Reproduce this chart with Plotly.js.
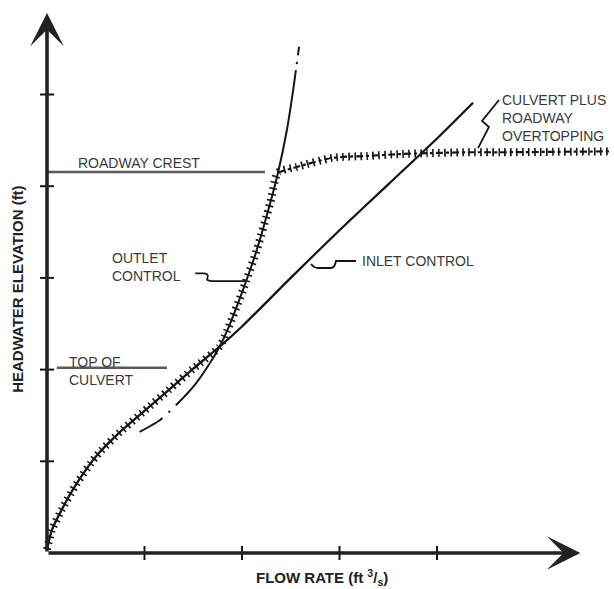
<!DOCTYPE html>
<html><head><meta charset="utf-8">
<script src="https://cdn.plot.ly/plotly-3.0.1.min.js"></script>
<style>html,body{margin:0;padding:0;background:#fff}#chart{width:614px;height:589px}</style>
</head><body><div id="chart"></div>
<script>
// Inlet control curve (flow, headwater) in tick units
const inletQ  = [0, 0.05, 0.15, 0.3, 0.5, 0.75, 1.0, 1.25, 1.5, 1.77, 2.0, 2.5, 3.0, 3.5, 4.0, 4.37];
const inletHW = [0.04, 0.25, 0.47, 0.75, 1.05, 1.32, 1.55, 1.78, 2.01, 2.25, 2.47, 3.0, 3.52, 4.02, 4.52, 4.91];
// Outlet control curve
const outletQ  = [0.95, 1.16, 1.33, 1.52, 1.67, 1.77, 1.85, 2.01, 2.15, 2.29, 2.37, 2.46, 2.525, 2.585];
const outletHW = [1.32, 1.45, 1.62, 1.84, 2.07, 2.25, 2.43, 2.87, 3.30, 3.82, 4.15, 4.61, 5.05, 5.52];
// Culvert plus roadway overtopping
const overQ  = [2.37, 2.56, 2.93, 3.28, 3.62, 3.90, 4.31, 4.65, 5.77];
const overHW = [4.15, 4.21, 4.31, 4.33, 4.35, 4.36, 4.37, 4.37, 4.38];
// Reference elevations
const crestHW = 4.155, crestQ = [0, 2.236];
const culvertHW = 2.02, culvertQ = [0.10, 1.23];
// Tick positions
const xTicks = [1, 2, 3, 4];
const yTicks = [1, 2, 3, 4, 5];
const xMax = 5.47, yMax = 5.89;

// Performance curve: inlet up to the intersection, outlet up to the crest, then overtopping
const perfQ  = inletQ.slice(0, 10).concat(outletQ.slice(6, 11), overQ.slice(1));
const perfHW = inletHW.slice(0, 10).concat(outletHW.slice(6, 11), overHW.slice(1));

const ink = '#161616', gray = '#5a5a5a', txt = '#3a3a3a';
const FONT = 'Liberation Sans, Arial, Helvetica, sans-serif';

const traces = [
  {x: crestQ, y: [crestHW, crestHW], mode: 'lines', line: {color: gray, width: 2.5}},
  {x: culvertQ, y: [culvertHW, culvertHW], mode: 'lines', line: {color: gray, width: 2.5}},
  {x: inletQ, y: inletHW, mode: 'lines', line: {color: ink, width: 2.3, shape: 'spline', smoothing: 0.6}},
  {x: outletQ, y: outletHW, mode: 'lines', line: {color: ink, width: 2, shape: 'spline', smoothing: 0.6,
     dash: '27px,8px,2px,8px,362px,6px,2px,7px,60px'}},
  {x: overQ, y: overHW, mode: 'lines', line: {color: ink, width: 2.2, shape: 'spline', smoothing: 0.6, dash: '7px,3px,3px,3px'}},
  {x: perfQ, y: perfHW, mode: 'lines', line: {color: ink, width: 8, shape: 'spline', smoothing: 0.6, dash: '1.6px,4.4px'}},
  {x: xTicks, y: xTicks.map(() => 0), mode: 'markers', cliponaxis: false,
     marker: {symbol: 'line-ns', size: 10, line: {color: ink, width: 2}}},
  {x: yTicks.map(() => 0), y: yTicks, mode: 'markers', cliponaxis: false,
     marker: {symbol: 'line-ew', size: 10, line: {color: ink, width: 2}}}
];

const paths = [
  'M1.52,3.05 L1.60,3.05 Q1.665,3.05 1.645,3.0 Q1.63,2.965 1.70,2.965 L2.03,2.965',
  'M2.708,3.152 Q2.74,3.108 2.779,3.108 L2.913,3.108 Q2.95,3.108 2.964,3.184 L3.169,3.184',
  'M4.636,4.94 L4.462,4.711 L4.533,4.646 L4.421,4.416'
];

const layout = {
  width: 614, height: 589,
  margin: {l: 0, r: 0, t: 0, b: 0},
  paper_bgcolor: '#fff', plot_bgcolor: '#fff',
  showlegend: false,
  xaxis: {range: [-0.4821, 5.8154], visible: false, fixedrange: true},
  yaxis: {range: [-0.3926, 6.0305], visible: false, fixedrange: true},
  shapes: paths.map(p => ({type: 'path', xref: 'x', yref: 'y', path: p, line: {color: ink, width: 1.8}})),
  annotations: [
    {x: xMax, y: 0, ax: 0, ay: 0, axref: 'x', ayref: 'y', xref: 'x', yref: 'y', text: '',
     showarrow: true, arrowhead: 3, arrowsize: 1.55, arrowwidth: 3.6, arrowcolor: '#222'},
    {x: 0, y: yMax, ax: 0, ay: 0, axref: 'x', ayref: 'y', xref: 'x', yref: 'y', text: '',
     showarrow: true, arrowhead: 3, arrowsize: 1.55, arrowwidth: 3.6, arrowcolor: '#222'},
    {x: 0.30, y: 4.25, xanchor: 'left', yanchor: 'middle', showarrow: false, text: 'ROADWAY CREST',
     font: {family: FONT, size: 14, color: txt}},
    {x: 0.65, y: 3.12, xanchor: 'left', yanchor: 'middle', align: 'left', showarrow: false, text: 'OUTLET<br>CONTROL',
     font: {family: FONT, size: 14, color: txt}},
    {x: 3.21, y: 3.18, xanchor: 'left', yanchor: 'middle', showarrow: false, text: 'INLET CONTROL',
     font: {family: FONT, size: 14, color: txt}},
    {x: 0.205, y: 1.99, xanchor: 'left', yanchor: 'middle', align: 'left', showarrow: false, text: 'TOP OF<br>CULVERT',
     font: {family: FONT, size: 14, color: txt}},
    {x: 4.65, y: 4.74, xanchor: 'left', yanchor: 'middle', align: 'left', showarrow: false,
     text: 'CULVERT PLUS<br>ROADWAY<br>OVERTOPPING', font: {family: FONT, size: 14, color: txt}},
    {x: 2.82, y: -0.27, xanchor: 'center', yanchor: 'middle', showarrow: false,
     text: '<b>FLOW RATE (ft <sup>3</sup>/<sub>s</sub>)</b>', font: {family: FONT, size: 15, color: '#222'}},
    {x: -0.297, y: 2.87, xanchor: 'center', yanchor: 'middle', showarrow: false, textangle: -90,
     text: '<b>HEADWATER ELEVATION (ft)</b>', font: {family: FONT, size: 15, color: '#222'}}
  ]
};

Plotly.newPlot('chart', traces, layout, {staticPlot: true, displayModeBar: false});
</script>
</body></html>
